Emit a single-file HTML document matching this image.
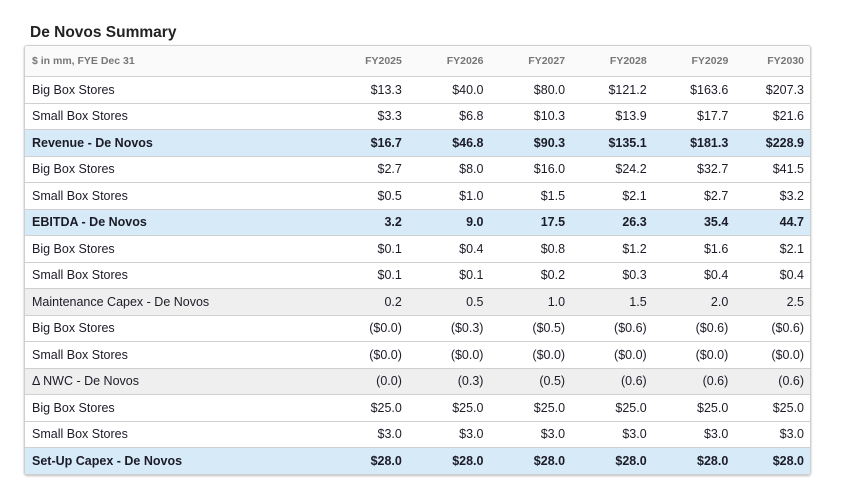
<!DOCTYPE html>
<html><head><style>
body{margin:0;background:#fff;font-family:"Liberation Sans",sans-serif;color:#1c1c28;}
.t{position:absolute;left:30px;top:24px;font-size:15.5px;font-weight:bold;color:#222;}
.box{position:absolute;left:24px;top:45px;width:785px;border:1px solid #cfcfcf;border-radius:3px;box-shadow:0 1px 2px #bbb;overflow:hidden;}
table{border-collapse:collapse;width:100%;font-size:12.5px;}
td{height:25.5px;border-top:1px solid #d0d0d0;padding:0;text-align:right;}
td:first-child{text-align:left;padding-left:7px;width:286px;}
td:last-child{padding-right:6px;}
tr.h td{height:30px;border-top:none;background:#fafafa;color:#777;font-weight:bold;font-size:10.5px;}
tr.b td{background:#d6eaf8;font-weight:bold;}
tr.g td{background:#efefef;}
</style></head><body>
<div class="t">De Novos Summary</div>
<div class="box"><table>
<colgroup><col><col style="width:81px"><col style="width:81px"><col style="width:81px"><col style="width:81px"><col style="width:81px"><col style="width:81px"></colgroup>
<tr class="h"><td>$ in mm, FYE Dec 31</td><td>FY2025</td><td>FY2026</td><td>FY2027</td><td>FY2028</td><td>FY2029</td><td>FY2030</td></tr>
<tr><td>Big Box Stores</td><td>$13.3</td><td>$40.0</td><td>$80.0</td><td>$121.2</td><td>$163.6</td><td>$207.3</td></tr>
<tr><td>Small Box Stores</td><td>$3.3</td><td>$6.8</td><td>$10.3</td><td>$13.9</td><td>$17.7</td><td>$21.6</td></tr>
<tr class="b"><td>Revenue - De Novos</td><td>$16.7</td><td>$46.8</td><td>$90.3</td><td>$135.1</td><td>$181.3</td><td>$228.9</td></tr>
<tr><td>Big Box Stores</td><td>$2.7</td><td>$8.0</td><td>$16.0</td><td>$24.2</td><td>$32.7</td><td>$41.5</td></tr>
<tr><td>Small Box Stores</td><td>$0.5</td><td>$1.0</td><td>$1.5</td><td>$2.1</td><td>$2.7</td><td>$3.2</td></tr>
<tr class="b"><td>EBITDA - De Novos</td><td>3.2</td><td>9.0</td><td>17.5</td><td>26.3</td><td>35.4</td><td>44.7</td></tr>
<tr><td>Big Box Stores</td><td>$0.1</td><td>$0.4</td><td>$0.8</td><td>$1.2</td><td>$1.6</td><td>$2.1</td></tr>
<tr><td>Small Box Stores</td><td>$0.1</td><td>$0.1</td><td>$0.2</td><td>$0.3</td><td>$0.4</td><td>$0.4</td></tr>
<tr class="g"><td>Maintenance Capex - De Novos</td><td>0.2</td><td>0.5</td><td>1.0</td><td>1.5</td><td>2.0</td><td>2.5</td></tr>
<tr><td>Big Box Stores</td><td>($0.0)</td><td>($0.3)</td><td>($0.5)</td><td>($0.6)</td><td>($0.6)</td><td>($0.6)</td></tr>
<tr><td>Small Box Stores</td><td>($0.0)</td><td>($0.0)</td><td>($0.0)</td><td>($0.0)</td><td>($0.0)</td><td>($0.0)</td></tr>
<tr class="g"><td>Δ NWC - De Novos</td><td>(0.0)</td><td>(0.3)</td><td>(0.5)</td><td>(0.6)</td><td>(0.6)</td><td>(0.6)</td></tr>
<tr><td>Big Box Stores</td><td>$25.0</td><td>$25.0</td><td>$25.0</td><td>$25.0</td><td>$25.0</td><td>$25.0</td></tr>
<tr><td>Small Box Stores</td><td>$3.0</td><td>$3.0</td><td>$3.0</td><td>$3.0</td><td>$3.0</td><td>$3.0</td></tr>
<tr class="b"><td>Set-Up Capex - De Novos</td><td>$28.0</td><td>$28.0</td><td>$28.0</td><td>$28.0</td><td>$28.0</td><td>$28.0</td></tr>
</table></div>
</body></html>
